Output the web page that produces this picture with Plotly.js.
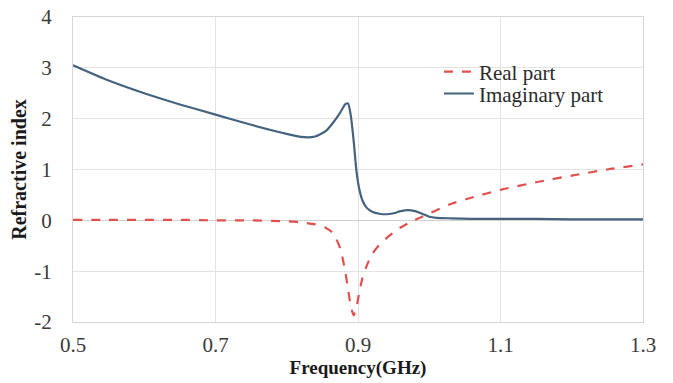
<!DOCTYPE html>
<html>
<head>
<meta charset="utf-8">
<script src="https://cdn.plot.ly/plotly-3.0.1.min.js"></script>
<style>
  html, body { margin: 0; padding: 0; background: #fff; }
  #chart { width: 673px; height: 383px; }
</style>
</head>
<body>
<div id="chart"></div>
<script>
// Frequency samples (GHz), denser around the resonance near 0.89 GHz
const frequency = [0.50, 0.55, 0.60, 0.65, 0.70, 0.75, 0.80, 0.82, 0.84, 0.855, 0.865, 0.875, 0.882, 0.886,
  0.890, 0.894, 0.898, 0.902, 0.906, 0.912, 0.920, 0.930, 0.940, 0.950, 0.960, 0.970, 0.980, 0.990,
  1.000, 1.010, 1.03, 1.06, 1.10, 1.15, 1.20, 1.25, 1.30];

// Real part of the refractive index
const realPart = [0.01, 0.01, 0.01, 0.01, 0.0, 0.0, -0.02, -0.04, -0.08, -0.15, -0.25, -0.55, -1.0, -1.35,
  -1.7, -1.87, -1.7, -1.4, -1.15, -0.9, -0.66, -0.48, -0.35, -0.24, -0.14, -0.06, 0.01, 0.07,
  0.13, 0.2, 0.32, 0.45, 0.6, 0.75, 0.88, 1.0, 1.1];

// Imaginary part of the refractive index
const imagPart = [3.05, 2.75, 2.5, 2.28, 2.08, 1.88, 1.7, 1.64, 1.65, 1.76, 1.92, 2.12, 2.28, 2.3,
  2.05, 1.55, 0.95, 0.6, 0.4, 0.25, 0.17, 0.13, 0.12, 0.14, 0.18, 0.2, 0.18, 0.13,
  0.07, 0.05, 0.04, 0.03, 0.03, 0.03, 0.02, 0.02, 0.02];

const xTicks = [0.5, 0.7, 0.9, 1.1, 1.3];
const xTickText = ["0.5", "0.7", "0.9", "1.1", "1.3"];
const yTicks = [-2, -1, 0, 1, 2, 3, 4];
const yTickText = ["-2", "-1", "0", "1", "2", "3", "4"];

const serif = "'Liberation Serif', 'DejaVu Serif', serif";
const gridColor = "#e3e3e3";
const tickFont = { family: serif, size: 21, color: "#3a3a3a" };
const legendFont = { family: serif, size: 21, color: "#2a2a2a" };

const traces = [
  {
    x: frequency, y: realPart, name: "Real part", type: "scatter", mode: "lines",
    legend: "legend",
    line: { color: "#e0504f", width: 2.2, dash: "dash", shape: "spline", smoothing: 0.6 }
  },
  {
    x: frequency, y: imagPart, name: "Imaginary part", type: "scatter", mode: "lines",
    legend: "legend2",
    line: { color: "#45627f", width: 2.2, shape: "spline", smoothing: 0.6 }
  }
];

const layout = {
  width: 673, height: 383,
  margin: { l: 73, r: 30, t: 17, b: 61 },
  paper_bgcolor: "#fff", plot_bgcolor: "#fff",
  font: { family: serif, size: 16, color: "#333" },
  showlegend: true,
  legend: {
    x: 0.642, y: 0.82, xanchor: "left", yanchor: "middle",
    bgcolor: "rgba(0,0,0,0)", font: legendFont
  },
  legend2: {
    x: 0.642, y: 0.748, xanchor: "left", yanchor: "middle",
    bgcolor: "rgba(0,0,0,0)", font: legendFont
  },
  xaxis: {
    range: [0.5, 1.3], tickvals: xTicks, ticktext: xTickText,
    showgrid: true, gridcolor: gridColor, gridwidth: 1,
    showline: true, linecolor: "#d6d6d6", linewidth: 1, mirror: true,
    zeroline: false, ticks: "", ticklen: 0, ticklabelstandoff: 4,
    tickfont: tickFont,
    title: { text: "<b>Frequency(GHz)</b>", font: { family: serif, size: 19, color: "#1a1a1a" }, standoff: 0 }
  },
  yaxis: {
    range: [-2, 4], tickvals: yTicks, ticktext: yTickText,
    showgrid: true, gridcolor: gridColor, gridwidth: 1,
    showline: true, linecolor: "#d6d6d6", linewidth: 1, mirror: true,
    zeroline: true, zerolinecolor: "#d0d0d0", zerolinewidth: 1,
    ticks: "", ticklen: 0, ticklabelstandoff: 16,
    tickfont: tickFont,
    title: { text: "<b>Refractive index</b>", font: { family: serif, size: 20, color: "#1a1a1a" }, standoff: 2 }
  }
};

Plotly.newPlot("chart", traces, layout, { displayModeBar: false, staticPlot: true });
</script>
</body>
</html>
